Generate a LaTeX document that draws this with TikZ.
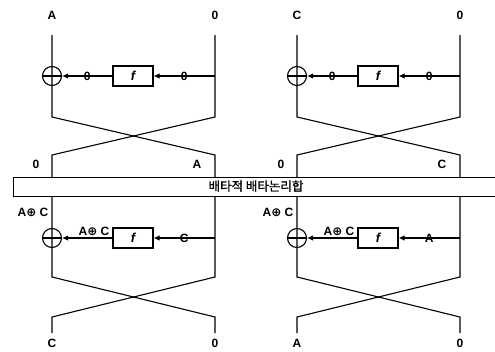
\documentclass[tikz,border=0pt]{standalone}
\usepackage{fontspec}
\setmainfont{Liberation Sans}
\newfontfamily\krfont[FakeBold=1.2]{Noto Sans CJK KR}
\newfontfamily\djvfont{DejaVu Sans}
\usetikzlibrary{arrows.meta}
\begin{document}
\begin{tikzpicture}[x=1pt,y=-1pt, line width=1.1pt,
  lbl/.style={font=\bfseries\fontsize{12}{14}\selectfont, inner sep=0pt},
  xorc/.style={circle, draw, minimum size=19pt, inner sep=0pt},
  fbox/.style={draw, minimum width=40pt, minimum height=20pt, inner sep=0pt, font=\bfseries\itshape\fontsize{13}{14}\selectfont},
  arr/.style={-{Latex[length=6pt,width=5.5pt]}},
  band/.style={draw, anchor=north west, minimum width=495pt, minimum height=19pt, inner sep=0pt}]
\useasboundingbox (0,0) rectangle (495,351);
\newcommand\xo{{\djvfont\bfseries ⊕}}
% band
\node[band] (band) at (13,177) {};
\node[font=\krfont\fontsize{12.5}{14}\selectfont, inner sep=0pt] (bandtxt) at (256,186) {배타적 배타논리합};
\foreach \i/\sx/\p/\q in {1/0/A/C, 2/245/C/A}{
\begin{scope}[xshift=\sx]
  % top half
  \node[lbl] (ta\i) at (52,15) {\p};
  \node[lbl] (tb\i) at (215,15) {0};
  \coordinate (a0\i) at (52,35);
  \coordinate (b0\i) at (215,35);
  \draw (a0\i) -- (52,117) -- (215,155) -- (215,177);
  \draw (b0\i) -- (215,117) -- (52,155) -- (52,177);
  \node[xorc] (x1\i) at (52,76) {};
  \draw (x1\i.west) -- (x1\i.east);
  \node[fbox] (f1\i) at (133,76) {f};
  \coordinate (r1\i) at (215,76);
  \draw[arr] (r1\i) -- node[lbl]{0} (f1\i.east);
  \draw[arr] (f1\i.west) -- node[lbl]{0} (x1\i.east);
  \node[lbl] (ma\i) at (36,164) {0};
  \node[lbl] (mb\i) at (197,164) {\p};
  % bottom half
  \draw (52,196) -- (52,277) -- (215,317) -- (215,333);
  \draw (215,196) -- (215,277) -- (52,317) -- (52,333);
  \node[lbl] (lc\i) at (33,212) {A\xo\ C};
  \node[xorc] (x2\i) at (52,238) {};
  \draw (x2\i.west) -- (x2\i.east);
  \node[fbox] (f2\i) at (133,238) {f};
  \coordinate (r2\i) at (215,238);
  \draw[arr] (r2\i) -- node[lbl]{\q} (f2\i.east);
  \draw[arr] (f2\i.west) -- (x2\i.east);
  \node[lbl] (mc\i) at (94,231) {A\xo\ C};
  \node[lbl] (oa\i) at (52,343) {\q};
  \node[lbl] (ob\i) at (215,343) {0};
\end{scope}
}
\end{tikzpicture}
\end{document}
